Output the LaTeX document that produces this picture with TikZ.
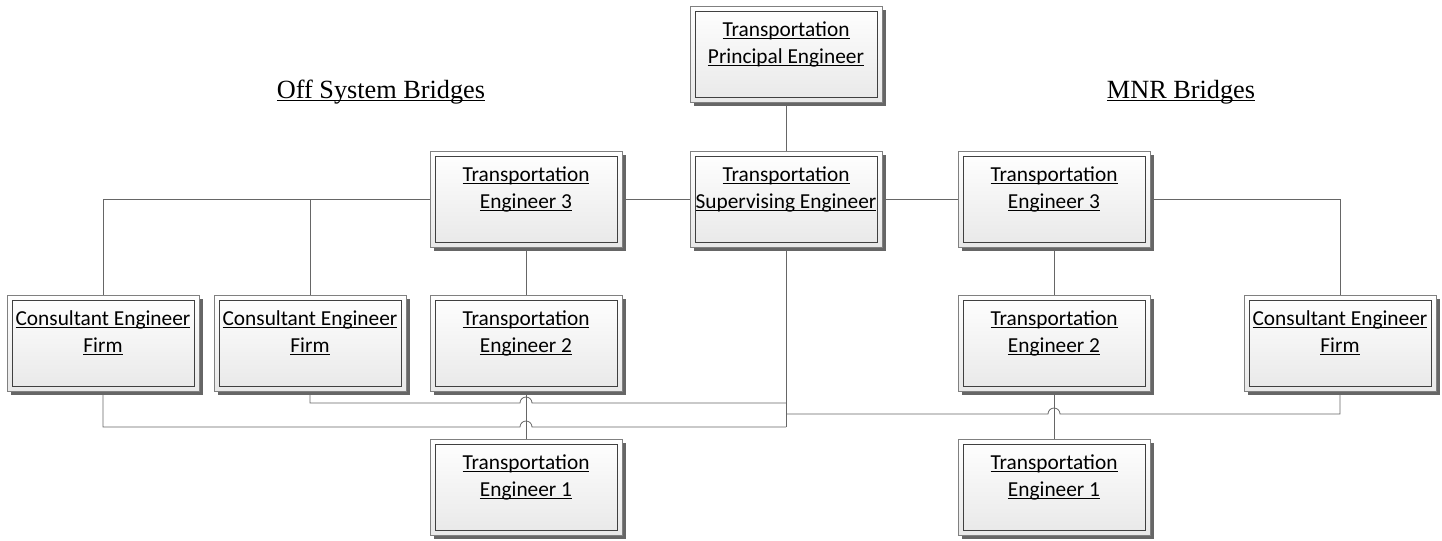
\documentclass[tikz,border=0pt]{standalone}
\usepackage{fontspec}
\setmainfont{Carlito}
\newfontfamily\headfont{Liberation Serif}
\usetikzlibrary{positioning,shadows,backgrounds}

\newcommand{\ulword}[1]{\underline{\smash{#1}}}
\newcommand{\boxtext}[2]{\strut\ulword{#1}\\\strut\ulword{#2}\\[-6pt]\strut}

\begin{document}
\begin{tikzpicture}[x=0.75pt,y=-0.75pt,
  orgbox/.style={draw=black!50, line width=0.6pt, top color=white, bottom color=black!9,
    minimum width=144pt, minimum height=72pt, inner sep=0pt, align=center,
    font=\fontsize{16}{20}\selectfont,
    drop shadow={shadow xshift=3pt, shadow yshift=-3pt, fill=black!60, opacity=1},
    path picture={\draw[black!75, line width=0.6pt]
      ([shift={(3.75pt,3.75pt)}]path picture bounding box.south west) rectangle
      ([shift={(-3.75pt,-3.75pt)}]path picture bounding box.north east);}},
  link/.style={draw=black!60, line width=0.6pt},
  heading/.style={anchor=base, font=\headfont\fontsize{19.7}{23}\selectfont}]
  \useasboundingbox (0,0) rectangle (1442,540);

  \node[orgbox] (principal) at (786,54)  {\boxtext{Transportation}{Principal Engineer}};
  \node[orgbox] (super)     at (786,199) {\boxtext{Transportation}{Supervising Engineer}};
  \node[orgbox] (teThreeA)  at (526,199) {\boxtext{Transportation}{Engineer 3}};
  \node[orgbox] (teThreeB)  at (1054,199) {\boxtext{Transportation}{Engineer 3}};
  \node[orgbox] (firmA)     at (103,343) {\boxtext{Consultant Engineer}{Firm}};
  \node[orgbox] (firmB)     at (310,343) {\boxtext{Consultant Engineer}{Firm}};
  \node[orgbox] (teTwoA)    at (526,343) {\boxtext{Transportation}{Engineer 2}};
  \node[orgbox] (teTwoB)    at (1054,343) {\boxtext{Transportation}{Engineer 2}};
  \node[orgbox] (firmC)     at (1340,343) {\boxtext{Consultant Engineer}{Firm}};
  \node[orgbox] (teOneA)    at (526,487) {\boxtext{Transportation}{Engineer 1}};
  \node[orgbox] (teOneB)    at (1054,487) {\boxtext{Transportation}{Engineer 1}};

  \node[heading] (offsys) at (381,98)  {\ulword{Off System Bridges}};
  \node[heading] (mnr)    at (1181,98) {\ulword{MNR Bridges}};

  % crossing points of the bottom lines
  \coordinate (hopLow)  at (526,427);
  \coordinate (hopHigh) at (526,403);
  \coordinate (hopMid)  at (1054,414);

  \begin{scope}[on background layer]
    \draw[link] (principal.south) -- (super.north);
    \draw[link] (teThreeA.east) -- (super.west);
    \draw[link] (super.east) -- (teThreeB.west);
    \draw[link] (teThreeA.west) -| (firmA.north);
    \draw[link] (firmB.north |- teThreeA.west) -- (firmB.north);
    \draw[link] (teThreeB.east) -| (firmC.north);
    \draw[link] (teThreeA.south) -- (teTwoA.north);
    \draw[link] (teThreeB.south) -- (teTwoB.north);
    \draw[link] (teTwoA.south) -- (teOneA.north);
    \draw[link] (teTwoB.south) -- (teOneB.north);
    \draw[link] (super.south) -- (super.south |- hopLow);
    \draw[link] (firmA.south) |- ([xshift=-4.5pt]hopLow)
      arc[start angle=180, end angle=360, radius=6] -- (super.south |- hopLow);
    \draw[link] (firmB.south) |- ([xshift=-4.5pt]hopHigh)
      arc[start angle=180, end angle=360, radius=6] -- (super.south |- hopHigh);
    \draw[link] (super.south |- hopMid) -- ([xshift=-4.5pt]hopMid)
      arc[start angle=180, end angle=360, radius=6] -| (firmC.south);
  \end{scope}
\end{tikzpicture}
\end{document}
